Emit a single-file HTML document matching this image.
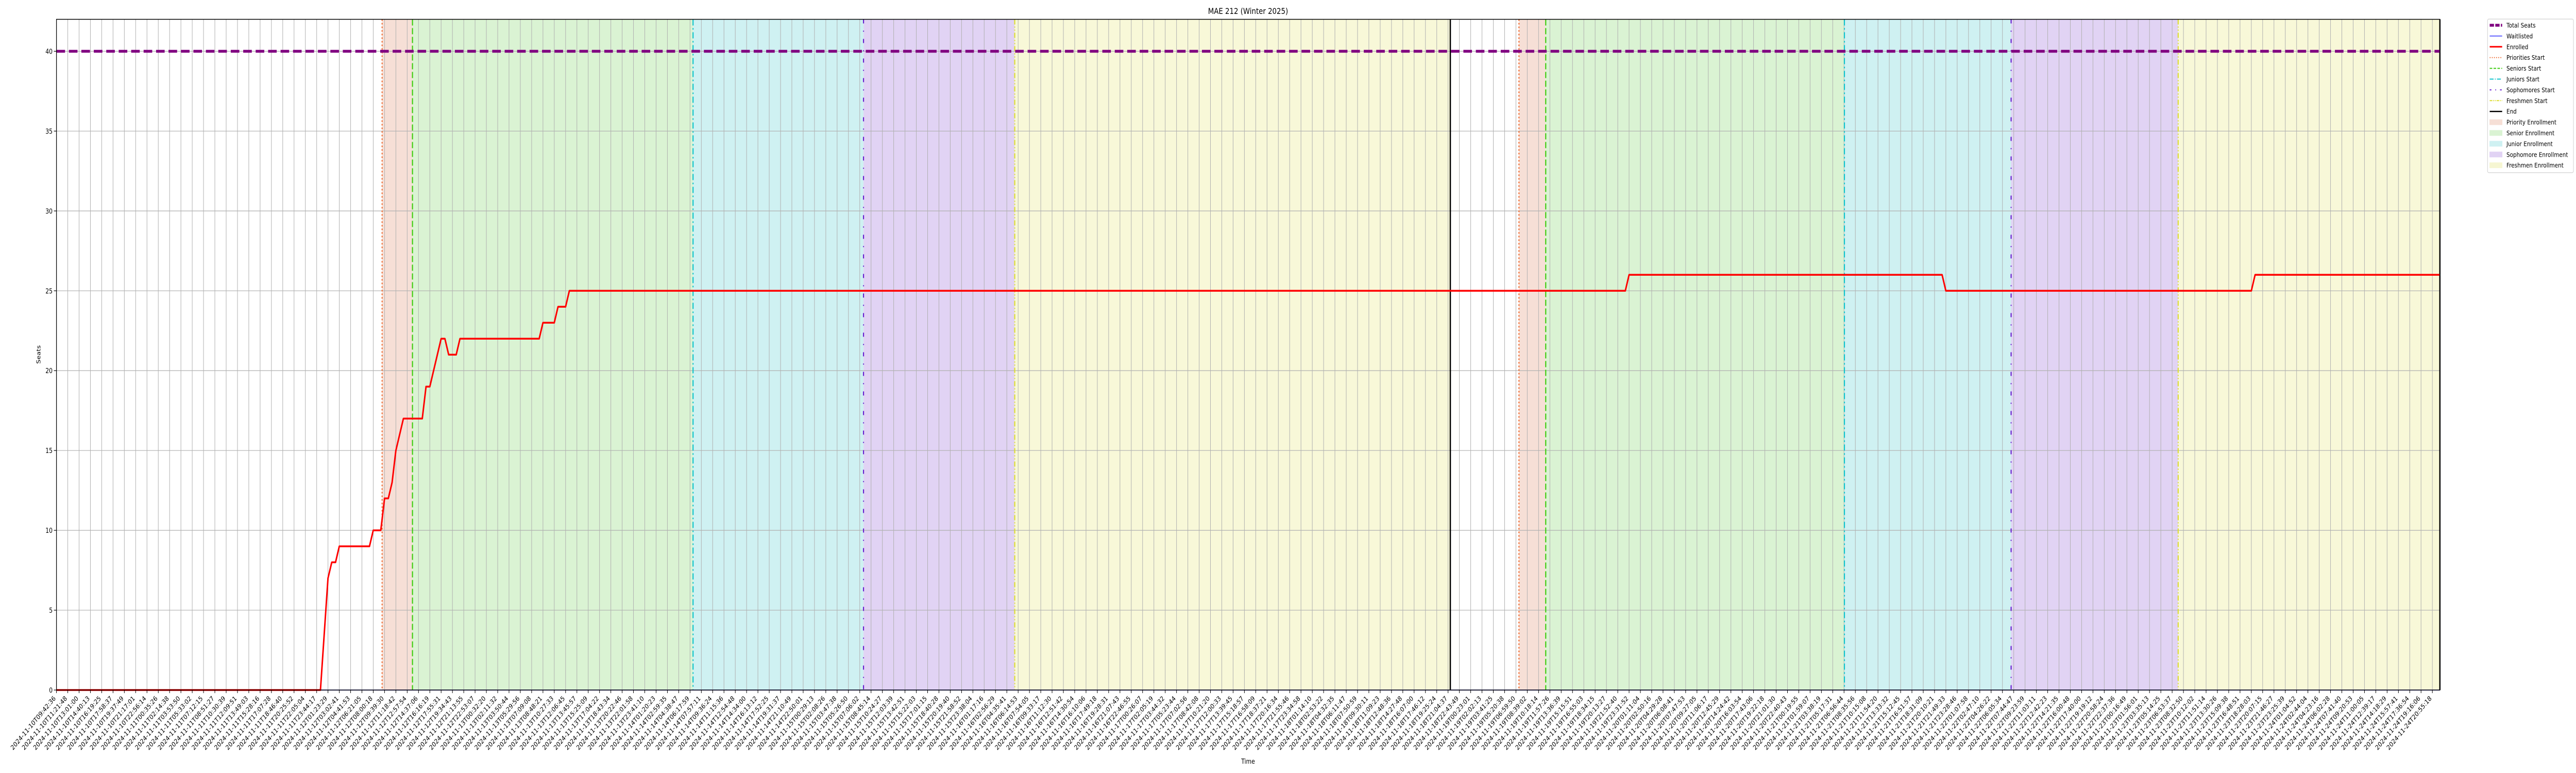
<!DOCTYPE html>
<html><head><meta charset="utf-8"><title>MAE 212 (Winter 2025)</title>
<style>
html,body{margin:0;padding:0;background:#fff;width:100%;height:100%;overflow:hidden;}
svg{display:block;position:absolute;left:0;top:0;width:100vw;height:100vh;font-family:"DejaVu Sans","Liberation Sans",sans-serif;}
</style></head>
<body>
<svg id="chart" xmlns="http://www.w3.org/2000/svg" viewBox="0 0 6000 1500" preserveAspectRatio="none">
<rect width="6000" height="1500" fill="#fff"/>
<g id="spans"></g>
<g id="grid"></g>
<g id="events"></g>
<g id="series"></g>
<g id="axes"></g>
<text x="2907" y="27" font-size="16" text-anchor="middle" fill="#000">MAE 212 (Winter 2025)</text>
<text x="0" y="0" font-size="13" text-anchor="middle" transform="translate(94,688) rotate(-90)" fill="#000">Seats</text>
<text x="2907" y="1482" font-size="13" text-anchor="middle" fill="#000">Time</text>
<g id="legend"></g>
</svg>
<script>
// ---- data ----
const totalSeats = [40];
const waitlistedIdx = [0, 632];
const waitlistedVal = [0, 0];
const enrolledIdx = [0,70,72,73,74,75,83,84,86,87,88,89,90,92,97,98,99,102,103,104,106,107,128,129,132,133,135,136,416,417,500,501,582,583,632];
const enrolledVal = [0,0,7,8,8,9,9,10,10,12,12,13,15,17,17,19,19,22,22,21,21,22,22,23,23,24,24,25,25,26,26,25,25,26,26];
const eventKinds = ["priority","senior","junior","sophomore","freshmen","end","priority","senior","junior","sophomore","freshmen","end"];
const eventIdx = [86.35,94.4,168.8,214.0,254.1,369.6,387.8,394.9,474.1,518.3,562.6,632];
const yTicks = [0,5,10,15,20,25,30,35,40];
const tickLabels = [];
(function(){
  let t = Date.UTC(2024,10,10,9,42,36);
  const end = Date.UTC(2024,10,24,20,55,18);
  const n = 211;
  const step = (end - t) / (n - 1);
  for (let i = 0; i < n; i++) {
    const d = new Date(t + Math.round(step * i / 1000) * 1000);
    tickLabels.push(d.toISOString().slice(0,19));
  }
})();

// ---- axes ----
const L = 131.5, R = 5683, T = 37.5, B = 1339;
const maxIdx = 632, yMax = 42;
const xOf = p => L + p * (R - L) / maxIdx;
const yOf = v => B - v * (B - T) / yMax;
const NS = "http://www.w3.org/2000/svg";
function mk(tag, attrs, parent){
  const e = document.createElementNS(NS, tag);
  for (const k in attrs) e.setAttribute(k, attrs[k]);
  parent.appendChild(e);
  return e;
}
const styles = {
  priority:{line:"#ee6a30",dash:"3 4",fill:"#f6dfd6"},
  senior:{line:"#3fcc12",dash:"12 5",fill:"#daf3d3"},
  junior:{line:"#10c4cc",dash:"12 5 3 5",fill:"#cff1f2"},
  sophomore:{line:"#6a22d0",dash:"8 14 2 14",fill:"#e1d3f4"},
  freshmen:{line:"#dddd33",dash:"10 4 2 4 2 4",fill:"#f8f8d8"},
  end:{line:"#000",dash:"",fill:"none"}
};

const gS = document.getElementById("spans");
for (let i = 0; i < eventIdx.length - 1; i++) {
  const k = eventKinds[i];
  if (k === "end") continue;
  const r = mk("rect", {x: xOf(eventIdx[i]), y: T, width: xOf(eventIdx[i+1]) - xOf(eventIdx[i]), height: B - T, fill: styles[k].fill}, gS);
  
  
}

const gG = document.getElementById("grid");
tickLabels.forEach((lab, i) => {
  const x = xOf(i * 3);
  const l = mk("line", {x1: x, x2: x, y1: T, y2: B, stroke: "#b0b0b0", "stroke-width": 1.2}, gG);
  
  
});
yTicks.forEach(v => {
  const l = mk("line", {x1: L, x2: R, y1: yOf(v), y2: yOf(v), stroke: "#b0b0b0", "stroke-width": 1.2}, gG);
  
  
});

const gE = document.getElementById("events");
eventIdx.forEach((p, i) => {
  const s = styles[eventKinds[i]];
  const a = {x1: xOf(p), x2: xOf(p), y1: T, y2: B, stroke: s.line, "stroke-width": eventKinds[i] === "end" ? 3 : 2.6};
  if (s.dash) a["stroke-dasharray"] = s.dash;
  const l = mk("line", a, gE);
  
  
});

const gSer = document.getElementById("series");
const ts = mk("line", {x1: L, x2: R, y1: yOf(totalSeats[0]), y2: yOf(totalSeats[0]), stroke: "#800080", "stroke-width": 5.5, "stroke-dasharray": "20 9"}, gSer);


const wl = mk("polyline", {points: waitlistedIdx.map((p, i) => xOf(p) + "," + yOf(waitlistedVal[i])).join(" "), fill: "none", stroke: "#3333ff", "stroke-width": 1.5}, gSer);


const en = mk("polyline", {points: enrolledIdx.map((p, i) => xOf(p) + "," + yOf(enrolledVal[i])).join(" "), fill: "none", stroke: "#ff0000", "stroke-width": 3.5, "stroke-linejoin": "round"}, gSer);



const gA = document.getElementById("axes");
const fr = mk("rect", {x: L, y: T, width: R - L, height: B - T, fill: "none", stroke: "#000", "stroke-width": 1.5}, gA);


yTicks.forEach(v => {
  const y = yOf(v);
  const t = mk("line", {x1: L - 6, x2: L, y1: y, y2: y, stroke: "#000", "stroke-width": 1.2}, gA);
  
  
  const tx = mk("text", {x: L - 9, y: y + 5, "font-size": 13, "text-anchor": "end", fill: "#000"}, gA);
  
  
  tx.textContent = String(v);
});
tickLabels.forEach((lab, i) => {
  const x = xOf(i * 3);
  const t = mk("line", {x1: x, x2: x, y1: B, y2: B + 6, stroke: "#000", "stroke-width": 1.2}, gA);
  
  
  const ax = x - 1, ay = B + 17;
  const tx = mk("text", {x: ax, y: ay, "font-size": 13, "text-anchor": "end", fill: "#000", transform: "rotate(-45 " + ax + " " + ay + ")"}, gA);
  
  
  tx.textContent = lab;
});

// ---- legend ----
const gL = document.getElementById("legend");
mk("rect", {x: 5794, y: 37, width: 200, height: 298, rx: 3, fill: "#fff", "fill-opacity": 0.85, stroke: "#d0d0d0", "stroke-width": 1.2}, gL);
const legendItems = [
  {t:"Total Seats", kind:"line", c:"#800080", w:5.5, d:"10 3"},
  {t:"Waitlisted", kind:"line", c:"#3333ff", w:1.5, d:""},
  {t:"Enrolled", kind:"line", c:"#ff0000", w:3, d:""},
  {t:"Priorities Start", kind:"line", c:styles.priority.line, w:2, d:"2 3"},
  {t:"Seniors Start", kind:"line", c:styles.senior.line, w:2, d:"6 3"},
  {t:"Juniors Start", kind:"line", c:styles.junior.line, w:2, d:"9 3 2 3"},
  {t:"Sophomores Start", kind:"line", c:styles.sophomore.line, w:2, d:"4 9 2 9"},
  {t:"Freshmen Start", kind:"line", c:styles.freshmen.line, w:2, d:"6 2 2 2 2 2"},
  {t:"End", kind:"line", c:"#000", w:2.5, d:""},
  {t:"Priority Enrollment", kind:"patch", c:styles.priority.fill},
  {t:"Senior Enrollment", kind:"patch", c:styles.senior.fill},
  {t:"Junior Enrollment", kind:"patch", c:styles.junior.fill},
  {t:"Sophomore Enrollment", kind:"patch", c:styles.sophomore.fill},
  {t:"Freshmen Enrollment", kind:"patch", c:"#f6f6d2"}
];
legendItems.forEach((it, i) => {
  const cy = 49 + i * 20.9;
  const g = mk("g", {}, gL);
  
  
  if (it.kind === "line") {
    const a = {x1: 5799, x2: 5828, y1: cy, y2: cy, stroke: it.c, "stroke-width": it.w};
    if (it.d) a["stroke-dasharray"] = it.d;
    mk("line", a, g);
  } else {
    mk("rect", {x: 5799, y: cy - 5, width: 29, height: 10, fill: it.c, stroke: it.c, "stroke-width": 1}, g);
  }
  const tx = mk("text", {x: 5838, y: cy + 4.5, "font-size": 12.5, fill: "#000"}, g);
  tx.textContent = it.t;
});
</script>
</body></html>
